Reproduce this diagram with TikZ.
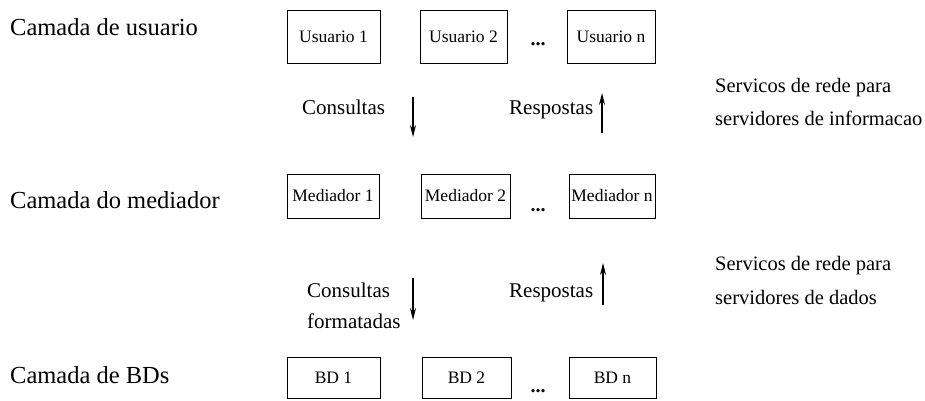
\documentclass[tikz,border=0pt]{standalone}
\usepackage{fontspec}
\setmainfont{Liberation Serif}
\usetikzlibrary{arrows.meta}
\tikzset{
  box/.style={draw=black, line width=1pt, inner sep=0pt, font=\fontsize{17.5}{20}\selectfont},
  layer/.style={anchor=base west, inner sep=0pt, font=\fontsize{24.5}{28}\selectfont},
  mid/.style={anchor=base west, inner sep=0pt, font=\fontsize{21}{26}\selectfont},
  side/.style={anchor=base west, inner sep=0pt, font=\fontsize{20.5}{24}\selectfont},
  dotsnode/.style={inner sep=0pt, font=\fontsize{20}{24}\selectfont\bfseries},
  flow/.style={line width=1.2pt, -{Stealth[length=12pt, width=6pt]}}
}
\begin{document}
\begin{tikzpicture}[x=1pt, y=-1pt]
\useasboundingbox (0,0) rectangle (925,400);
% layer labels
\node[layer] (l1) at (10,35) {Camada de usuario};
\node[layer] (l2) at (10,208) {Camada do mediador};
\node[layer] (l3) at (10,383) {Camada de BDs};
% row 1
\node[box, minimum width=93pt, minimum height=53pt] (u1) at (333.5,36.5) {Usuario 1};
\node[box, minimum width=87pt, minimum height=53pt] (u2) at (463.5,36.5) {Usuario 2};
\node[box, minimum width=88pt, minimum height=53pt] (un) at (611,36.5) {Usuario n};
\node[dotsnode] (d1) at (538,44) {...};
% row 2
\node[box, minimum width=92pt, minimum height=44pt] (m1) at (333,196) {Mediador 1};
\node[box, minimum width=89pt, minimum height=44pt] (m2) at (465.5,196) {Mediador 2};
\node[box, minimum width=86pt, minimum height=44pt] (mn) at (612,196) {Mediador n};
\node[dotsnode] (d2) at (538,210) {...};
% row 3
\node[box, minimum width=93pt, minimum height=41pt] (b1) at (333.5,377.5) {BD 1};
\node[box, minimum width=89pt, minimum height=41pt] (b2) at (466.5,377.5) {BD 2};
\node[box, minimum width=87pt, minimum height=41pt] (bn) at (612.5,377.5) {BD n};
\node[dotsnode] (d3) at (538,391) {...};
% arrows
\coordinate (a1s) at (413,97);  \coordinate (a1e) at (413,137);
\coordinate (a2s) at (602,133); \coordinate (a2e) at (602,93);
\coordinate (a3s) at (413,278); \coordinate (a3e) at (413,320);
\coordinate (a4s) at (603,305); \coordinate (a4e) at (603,263);
\draw[flow] (a1s) -- (a1e);
\draw[flow] (a2s) -- (a2e);
\draw[flow] (a3s) -- (a3e);
\draw[flow] (a4s) -- (a4e);
% arrow labels
\node[mid] (c1) at (302,114) {Consultas};
\node[mid] (r1) at (509,114) {Respostas};
\node[mid] (c2) at (307,297) {Consultas};
\node[mid] (c2b) at (307,328) {formatadas};
\node[mid] (r2) at (509,297) {Respostas};
% side notes
\node[side] (s1a) at (715,92) {Servicos de rede para};
\node[side] (s1b) at (715,125) {servidores de informacao};
\node[side] (s2a) at (715,270) {Servicos de rede para};
\node[side] (s2b) at (715,304) {servidores de dados};
\end{tikzpicture}
\end{document}
